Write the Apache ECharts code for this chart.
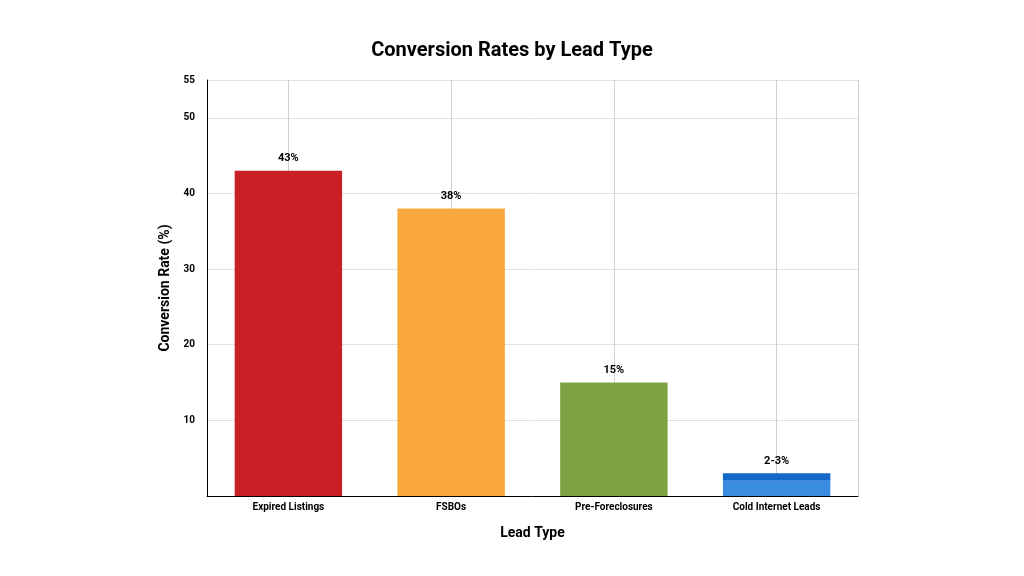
<!DOCTYPE html>
<html>
<head>
<meta charset="utf-8">
<script src="https://cdn.jsdelivr.net/npm/echarts@6/dist/echarts.min.js"></script>
<style>html,body{margin:0;background:#fff}#chart{width:1024px;height:576px}</style>
</head>
<body>
<div id="chart"></div>
<script>
const categories = ['Expired Listings', 'FSBOs', 'Pre-Foreclosures', 'Cold Internet Leads'];
const baseValues = [43, 38, 15, 2];
const topValues = [0, 0, 0, 1];
const labels = ['43%', '38%', '15%', '2-3%'];
const baseColors = ['#c91f26', '#f8a83c', '#7ea342', '#3a8ce0'];
const topColors = ['#c91f26', '#f8a83c', '#7ea342', '#1468c9'];

const chart = echarts.init(document.getElementById('chart'));
const font = 'Roboto';
chart.setOption({
    animation: false,
    title: {
        text: 'Conversion Rates by Lead Type',
        left: 'center', top: 36,
        textStyle: { fontFamily: font, fontSize: 20, fontWeight: 'bold', color: '#000' },
    },
    grid: { left: 207, right: 166, top: 80, bottom: 80 },
    xAxis: [
        {
            type: 'category',
            data: categories,
            name: 'Lead Type', nameLocation: 'middle', nameGap: 30,
            nameTextStyle: { fontFamily: font, fontSize: 14, fontWeight: 'bold', color: '#000' },
            axisLine: { lineStyle: { color: '#000', width: 1 } },
            axisTick: { show: false },
            axisLabel: { fontFamily: font, fontSize: 10, fontWeight: 'bold', color: '#000', margin: 6 },
        },
        {
            type: 'category',
            data: categories.flatMap(c => [c + 'a', c + 'b']),
            position: 'bottom',
            axisLine: { show: false }, axisTick: { show: false }, axisLabel: { show: false },
            splitLine: { show: true, interval: i => i % 2 === 1, lineStyle: { color: '#d0d0d0' } },
        },
    ],
    yAxis: {
        type: 'value', min: 0, max: 55, interval: 10,
        name: 'Conversion Rate (%)', nameLocation: 'middle', nameGap: 30,
        nameTextStyle: { fontFamily: font, fontSize: 14, fontWeight: 'bold', color: '#000' },
        axisLine: { show: true, lineStyle: { color: '#000' } },
        axisTick: { show: false },
        axisLabel: { fontFamily: font, fontSize: 10, fontWeight: 'bold', color: '#000', margin: 12,
            formatter: v => (v === 0 ? '' : v) },
        splitLine: { lineStyle: { color: '#e0e0e0' } },
    },
    series: [
        {
            type: 'bar', stack: 's', barWidth: '66%',
            data: baseValues.map((v, i) => ({ value: v, itemStyle: { color: baseColors[i] } })),
            label: {
                show: true, position: 'top', distance: 7,
                fontFamily: font, fontSize: 11, fontWeight: 'bold', color: '#000',
                formatter: p => (topValues[p.dataIndex] ? '' : labels[p.dataIndex]),
            },
        },
        {
            type: 'bar', stack: 's', barWidth: '66%',
            data: topValues.map((v, i) => ({ value: v, itemStyle: { color: topColors[i] } })),
            label: {
                show: true, position: 'top', distance: 7,
                fontFamily: font, fontSize: 11, fontWeight: 'bold', color: '#000',
                formatter: p => (topValues[p.dataIndex] ? labels[p.dataIndex] : ''),
            },
        },
    ],
});
</script>
</body>
</html>
